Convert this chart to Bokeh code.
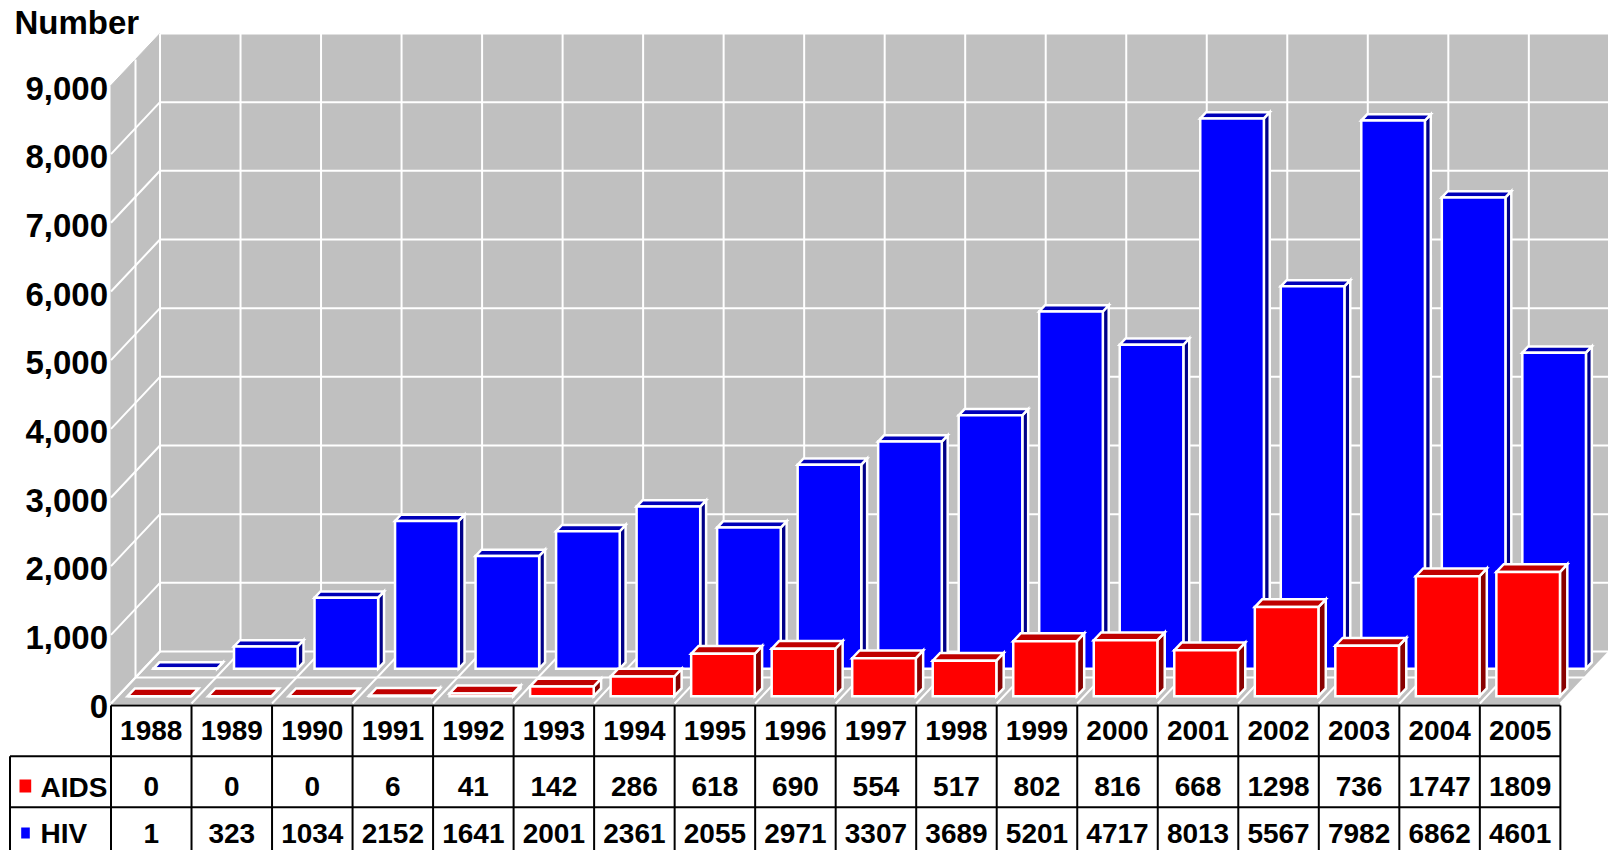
from bokeh.plotting import figure
from bokeh.models import Range1d
from bokeh.embed import file_html
from bokeh.resources import INLINE
from bokeh.core.properties import value

# ---- data ----
years = ["1988", "1989", "1990", "1991", "1992", "1993", "1994", "1995", "1996",
         "1997", "1998", "1999", "2000", "2001", "2002", "2003", "2004", "2005"]
aids = [0, 0, 0, 6, 41, 142, 286, 618, 690, 554, 517, 802, 816, 668, 1298, 736, 1747, 1809]
hiv = [1, 323, 1034, 2152, 1641, 2001, 2361, 2055, 2971, 3307, 3689, 5201, 4717, 8013,
       5567, 7982, 6862, 4601]
y_ticks = [0, 1000, 2000, 3000, 4000, 5000, 6000, 7000, 8000, 9000]
y_tick_labels = ["0", "1,000", "2,000", "3,000", "4,000", "5,000", "6,000", "7,000",
                 "8,000", "9,000"]
series_names = ["AIDS", "HIV"]
y_title = "Number"

# ---- layout of the page (pixels) ----
W, H = 1608, 850
COL_PX = 80.52          # width of one year column
X0_PX = 110.5           # left edge of the front plane
Y0_PX = 703.0           # zero line of the front plane
PX_PER_UNIT = 0.06867   # vertical pixels per case
DEPTH_X_PX, DEPTH_Y_PX = 49.0, 52.0
Y_MAX = 9000

FONT = value("Liberation Sans")


def sx(px):
    """canvas x pixel -> data x"""
    return (px - X0_PX) / COL_PX


def sy(px):
    """canvas y pixel -> data y"""
    return (Y0_PX - px) / PX_PER_UNIT


DXC = DEPTH_X_PX / COL_PX
DYV = DEPTH_Y_PX / PX_PER_UNIT
N = len(years)


def proj(x, v, d):
    # oblique projection: depth d in [0, 1] shifts up and to the right
    return x + d * DXC, v + d * DYV


p = figure(width=W, height=H, output_backend="svg", toolbar_location=None,
           x_range=Range1d(sx(0), sx(W)), y_range=Range1d(sy(H), sy(0)),
           x_axis_type=None, y_axis_type=None, min_border=0,
           background_fill_color="white", border_fill_color="white")
p.outline_line_color = None
p.xgrid.visible = False
p.ygrid.visible = False

WALL = "#C0C0C0"

# ---- walls and floor ----
walls_xs, walls_ys = [], []
for poly in (
    [(0, 0, 1), (N, 0, 1), (N, Y_MAX, 1), (0, Y_MAX, 1)],        # back wall
    [(0, 0, 0), (0, Y_MAX, 0), (0, Y_MAX, 1), (0, 0, 1)],        # side wall
    [(0, 0, 0), (N, 0, 0), (N, 0, 1), (0, 0, 1)],                # floor
):
    pts = [proj(*q) for q in poly]
    walls_xs.append([a for a, _ in pts])
    walls_ys.append([b for _, b in pts])
p.patches(walls_xs, walls_ys, fill_color=WALL, line_color=WALL, line_width=1)

# ---- grid lines on walls and floor ----
gx, gy = [], []


def seg(a, b):
    pa, pb = proj(*a), proj(*b)
    gx.append([pa[0], pb[0]])
    gy.append([pa[1], pb[1]])


for t in y_ticks:
    seg((0, t, 1), (N, t, 1))           # back wall horizontals
    if t < Y_MAX:
        seg((0, t, 0), (0, t, 1))       # side wall diagonals
for k in range(N + 1):
    seg((k, 0, 1), (k, Y_MAX, 1))       # back wall verticals
    seg((k, 0, 0), (k, 0, 1))           # floor diagonals
seg((0, 0, 0.5), (0, Y_MAX, 0.5))       # side wall mid-depth
seg((0, 0, 0.5), (N, 0, 0.5))           # floor mid-depth
p.multi_line(gx, gy, line_color="white", line_width=2)

# ---- 3D bars ----
OX, BW = 0.12, 0.79


def bar_faces(vals, d0, d1):
    faces = {"front": ([], []), "top": ([], []), "side": ([], [])}
    for i, v in enumerate(vals):
        x0, x1 = i + OX, i + OX + BW
        polys = {
            "front": [(x0, 0, d0), (x1, 0, d0), (x1, v, d0), (x0, v, d0)],
            "top": [(x0, v, d0), (x1, v, d0), (x1, v, d1), (x0, v, d1)],
            "side": [(x1, 0, d0), (x1, 0, d1), (x1, v, d1), (x1, v, d0)],
        }
        for name, poly in polys.items():
            pts = [proj(*q) for q in poly]
            faces[name][0].append([a for a, _ in pts])
            faces[name][1].append([b for _, b in pts])
    return faces


rows = [
    (hiv, 0.67, 0.79, {"front": "#0000FF", "top": "#0000B8", "side": "#000088"}),
    (aids, 0.14, 0.29, {"front": "#FF0000", "top": "#C00000", "side": "#880000"}),
]
for vals, d0, d1, colors in rows:
    faces = bar_faces(vals, d0, d1)
    for name in ("side", "top", "front"):
        xs, ys = faces[name]
        p.patches(xs, ys, fill_color=colors[name], line_color="white",
                  line_width=2.5, line_join="miter")

# ---- text helpers: y given as the vertical centre of the capitals ----
text_base = dict(text_font=FONT, text_font_style="bold", text_color="black",
                 text_baseline="alphabetic")

# ---- y axis labels and title ----
p.text(x=[sx(107.5)] * len(y_ticks), y=[t - 2.7 / PX_PER_UNIT for t in y_ticks],
       text=y_tick_labels, text_font_size="33px", text_align="right", **text_base)
p.text(x=[sx(14)], y=[sy(21.5)], text=[y_title], text_font_size="33px",
       text_align="left", **text_base)

# ---- data table ----
T_TOP, R1, R2, T_BOT = 705.0, 755.7, 806.7, 870.0
LEG_L = 9.5
tx, ty = [], []
tx.append([0, N]); ty.append([sy(T_TOP), sy(T_TOP)])
for r in (R1, R2):
    tx.append([sx(LEG_L), N]); ty.append([sy(r), sy(r)])
for k in range(N + 1):
    tx.append([k, k]); ty.append([sy(T_TOP), sy(T_BOT)])
tx.append([sx(LEG_L), sx(LEG_L)]); ty.append([sy(R1), sy(T_BOT)])
p.multi_line(tx, ty, line_color="black", line_width=2)

centers = [i + 0.5 for i in range(N)]
cell_style = dict(text_font_size="28px", text_align="center", **text_base)
p.text(x=centers, y=[sy(730)] * N, text=years, **cell_style)
p.text(x=centers, y=[sy(786)] * N, text=[str(v) for v in aids], **cell_style)
p.text(x=centers, y=[sy(833)] * N, text=[str(v) for v in hiv], **cell_style)

# legend keys inside the table
p.quad(left=[sx(19), sx(20.7)], right=[sx(30.7), sx(29.3)],
       top=[sy(779), sy(827)], bottom=[sy(792), sy(838)],
       fill_color=["#FF0000", "#0000FF"], line_color=None)
p.text(x=[sx(40), sx(40)], y=[sy(786.5), sy(833)], text=series_names,
       text_font_size="28px", text_align="left", **text_base)

open("out.html", "w").write(file_html(p, INLINE))
